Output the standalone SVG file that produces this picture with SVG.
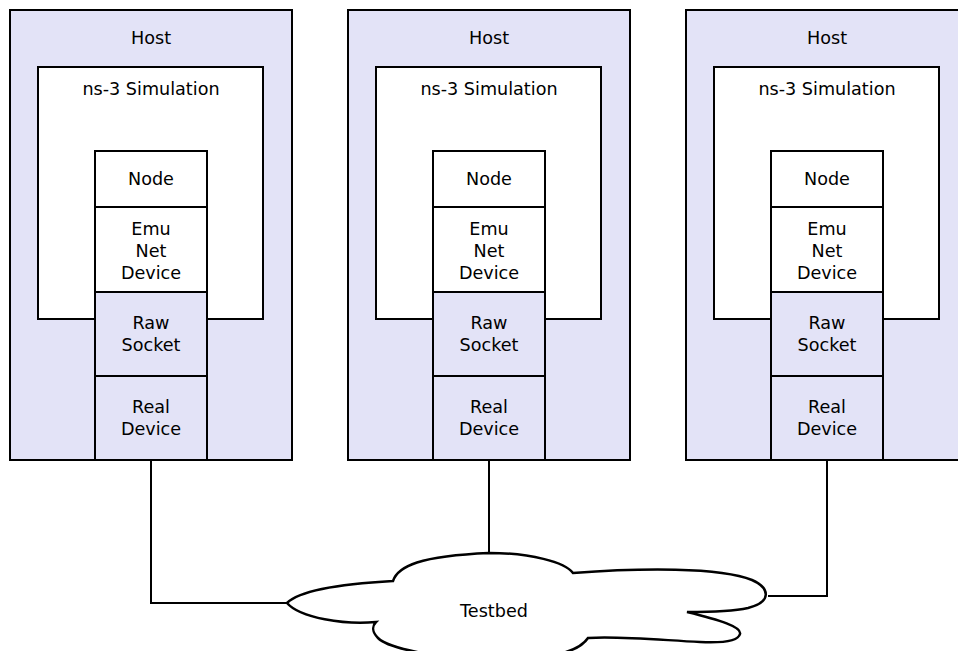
<svg xmlns="http://www.w3.org/2000/svg" width="958" height="651" viewBox="0 0 958 651">
<style>
.box{stroke:#000;stroke-width:2}
.host{fill:#e3e3f7}
.sim{fill:#fff}
.wh{fill:#fff}
.lv{fill:#e3e3f7}
text{font-family:"DejaVu Sans",sans-serif;font-size:17.6px;fill:#000;text-anchor:middle}
.conn{fill:none;stroke:#000;stroke-width:2}
</style>
<defs>
<g id="hostTpl">
<rect class="box host" x="10" y="10" width="282" height="450"/>
<text x="151" y="44">Host</text>
<rect class="box sim" x="38" y="67" width="225" height="252"/>
<text x="151" y="95">ns-3 Simulation</text>
<rect class="box wh" x="95" y="151" width="112" height="56"/>
<text x="151" y="185">Node</text>
<rect class="box wh" x="95" y="207" width="112" height="85"/>
<text x="151" y="235">Emu</text>
<text x="151" y="257">Net</text>
<text x="151" y="279">Device</text>
<rect class="box lv" x="95" y="292" width="112" height="84"/>
<text x="151" y="329">Raw</text>
<text x="151" y="351">Socket</text>
<rect class="box lv" x="95" y="376" width="112" height="84"/>
<text x="151" y="413">Real</text>
<text x="151" y="435">Device</text>
</g>
</defs>
<g id="host1"><use href="#hostTpl"/></g>
<g id="host2"><use href="#hostTpl" x="338"/></g>
<g id="host3"><use href="#hostTpl" x="676"/></g>
<g id="connectors">
<path class="conn" d="M151,460 V603 H287"/>
<path class="conn" d="M489,460 V553"/>
<path class="conn" d="M827,460 V596 H768"/>
</g>
<g id="testbed">
<path fill="#fff" stroke="#000" stroke-width="2.5" stroke-linejoin="miter" d="M287,603 C300,590 340,584 393,581 C398,566 420,556 489,553 C530,553 565,562 573,573 C640,568 720,567 752,580 C770,588 772,602 748,608 C730,612 705,612 687,612 C720,620 742,627 740,634 C738,642 720,643 700,642 C660,640 620,636 588,638 C580,650 560,658 500,660 C450,660 390,650 378,638 C372,632 372,626 376,622 C345,625 300,618 287,603 Z"/>
<text x="494" y="617">Testbed</text>
</g>
</svg>
